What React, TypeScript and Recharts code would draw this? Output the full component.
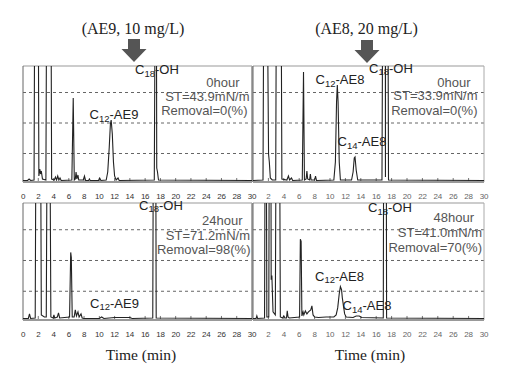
import React from 'react';
import { LineChart, Line, XAxis, YAxis, ReferenceLine } from 'recharts';

const timeTicks = [0, 2, 4, 6, 8, 10, 12, 14, 16, 18, 20, 22, 24, 26, 28, 30];
const timeTicksRight = [2, 4, 6, 8, 10, 12, 14, 16, 18, 20, 22, 24, 26, 28, 30];
const innerTicks = [2, 4, 6, 8, 10, 12, 14, 16, 18, 20, 22, 24, 26, 28];
const gridLevels = [28.5, 59, 89.5];
const yMax = 116;

const ae9Hour0 = [
  { t: 0, v: 1.5 }, { t: 0.6, v: 1.5 }, { t: 0.8, v: 3 }, { t: 1.0, v: 1.5 }, { t: 1.45, v: 2 },
  { t: 1.58, v: 300 }, { t: 1.95, v: 300 }, { t: 2.08, v: 6 }, { t: 2.2, v: 13 }, { t: 2.3, v: 8 },
  { t: 2.4, v: 11 }, { t: 2.55, v: 3 }, { t: 3.0, v: 2 }, { t: 3.15, v: 300 }, { t: 3.62, v: 300 },
  { t: 3.75, v: 3 }, { t: 4.1, v: 2 }, { t: 4.25, v: 5 }, { t: 4.4, v: 2 }, { t: 4.55, v: 6 },
  { t: 4.7, v: 2 }, { t: 4.85, v: 4 }, { t: 5.0, v: 1.5 }, { t: 6.4, v: 2 }, { t: 6.58, v: 84 },
  { t: 6.72, v: 2 }, { t: 6.85, v: 3 }, { t: 6.95, v: 10 }, { t: 7.05, v: 3 }, { t: 7.2, v: 7 },
  { t: 7.3, v: 2 }, { t: 7.9, v: 2 }, { t: 8.05, v: 6 }, { t: 8.2, v: 1.5 }, { t: 8.6, v: 1.5 },
  { t: 8.7, v: 3 }, { t: 8.8, v: 1.5 }, { t: 9.9, v: 1.5 }, { t: 10.05, v: 4 }, { t: 10.2, v: 1.5 },
  { t: 10.9, v: 2 }, { t: 11.1, v: 10 }, { t: 11.3, v: 35 }, { t: 11.45, v: 58 }, { t: 11.55, v: 62 },
  { t: 11.7, v: 48 }, { t: 11.85, v: 20 }, { t: 12.0, v: 6 }, { t: 12.2, v: 2 }, { t: 12.45, v: 4 },
  { t: 12.6, v: 1.5 }, { t: 17.2, v: 2 }, { t: 17.38, v: 300 }, { t: 17.45, v: 300 }, { t: 17.52, v: 14 },
  { t: 17.62, v: 10 }, { t: 17.75, v: 2 }, { t: 30, v: 1.5 },
];

const ae8Hour0 = [
  { t: 0, v: 1.5 }, { t: 1.3, v: 2 }, { t: 1.45, v: 300 }, { t: 1.75, v: 300 }, { t: 2.02, v: 28 },
  { t: 2.12, v: 20 }, { t: 2.25, v: 4 }, { t: 2.5, v: 2 }, { t: 2.95, v: 2 }, { t: 3.08, v: 300 },
  { t: 3.6, v: 300 }, { t: 3.75, v: 3 }, { t: 4.4, v: 2 }, { t: 4.6, v: 6 }, { t: 4.75, v: 2 },
  { t: 5.0, v: 4 }, { t: 5.15, v: 1.5 }, { t: 6.4, v: 2 }, { t: 6.56, v: 110 }, { t: 6.68, v: 2 },
  { t: 6.9, v: 3 }, { t: 7.0, v: 11 }, { t: 7.1, v: 3 }, { t: 7.35, v: 2 }, { t: 7.45, v: 8 },
  { t: 7.55, v: 2 }, { t: 8.0, v: 2 }, { t: 8.12, v: 6 }, { t: 8.25, v: 1.5 }, { t: 10.5, v: 2 },
  { t: 10.7, v: 20 }, { t: 10.85, v: 80 }, { t: 10.95, v: 97 }, { t: 11.05, v: 80 }, { t: 11.2, v: 20 },
  { t: 11.35, v: 2 }, { t: 12.8, v: 2 }, { t: 13.0, v: 10 }, { t: 13.15, v: 24 }, { t: 13.25, v: 25 },
  { t: 13.4, v: 12 }, { t: 13.6, v: 2 }, { t: 16.75, v: 2 }, { t: 16.9, v: 300 }, { t: 17.18, v: 300 },
  { t: 17.2, v: 5 }, { t: 17.22, v: 300 }, { t: 17.48, v: 300 }, { t: 17.6, v: 2 }, { t: 30, v: 1.5 },
];

const ae9Hour24 = [
  { t: 0, v: 1.5 }, { t: 0.7, v: 1.5 }, { t: 0.85, v: 6 }, { t: 1.0, v: 1.5 }, { t: 1.6, v: 2 },
  { t: 1.75, v: 300 }, { t: 2.25, v: 300 }, { t: 2.4, v: 5 }, { t: 2.8, v: 3 }, { t: 3.05, v: 3 },
  { t: 3.22, v: 300 }, { t: 3.45, v: 300 }, { t: 3.65, v: 3 }, { t: 3.95, v: 2 }, { t: 4.05, v: 5 },
  { t: 4.15, v: 2 }, { t: 4.5, v: 3 }, { t: 4.65, v: 7 }, { t: 4.8, v: 2 }, { t: 6.1, v: 3 },
  { t: 6.25, v: 67 }, { t: 6.33, v: 62 }, { t: 6.45, v: 3 }, { t: 6.7, v: 3 }, { t: 6.85, v: 10 },
  { t: 7.0, v: 4 }, { t: 7.2, v: 8 }, { t: 7.35, v: 3 }, { t: 7.6, v: 6 }, { t: 7.75, v: 2 },
  { t: 8.0, v: 1.5 }, { t: 10.0, v: 1.5 }, { t: 10.3, v: 3 }, { t: 10.6, v: 1.5 }, { t: 12.0, v: 2.5 },
  { t: 14.0, v: 2.5 }, { t: 14.3, v: 1.5 }, { t: 17.0, v: 2 }, { t: 17.12, v: 300 }, { t: 17.35, v: 300 },
  { t: 17.45, v: 2 }, { t: 30, v: 1.5 },
];

const ae8Hour48 = [
  { t: 0, v: 1.5 }, { t: 0.4, v: 1.5 }, { t: 0.5, v: 4 }, { t: 0.6, v: 1.5 }, { t: 1.5, v: 2 },
  { t: 1.62, v: 300 }, { t: 1.68, v: 300 }, { t: 1.8, v: 3 }, { t: 2.05, v: 3 }, { t: 2.15, v: 300 },
  { t: 2.3, v: 300 }, { t: 2.36, v: 40 }, { t: 2.45, v: 44 }, { t: 2.6, v: 8 }, { t: 2.9, v: 5 },
  { t: 3.05, v: 300 }, { t: 3.4, v: 300 }, { t: 3.55, v: 3 }, { t: 3.85, v: 2 }, { t: 4.0, v: 4 },
  { t: 4.15, v: 2 }, { t: 4.35, v: 2 }, { t: 4.45, v: 9 }, { t: 4.55, v: 3 }, { t: 4.7, v: 2 },
  { t: 6.05, v: 3 }, { t: 6.15, v: 80 }, { t: 6.25, v: 78 }, { t: 6.35, v: 4 }, { t: 6.5, v: 8 },
  { t: 6.6, v: 5 }, { t: 6.8, v: 9 }, { t: 7.0, v: 6 }, { t: 7.2, v: 8 }, { t: 7.5, v: 10 },
  { t: 7.65, v: 14 }, { t: 7.8, v: 5 }, { t: 8.0, v: 3 }, { t: 8.5, v: 2.5 }, { t: 9.5, v: 3 },
  { t: 10.5, v: 3 }, { t: 10.8, v: 5 }, { t: 11.0, v: 12 }, { t: 11.2, v: 26 }, { t: 11.35, v: 33 },
  { t: 11.5, v: 30 }, { t: 11.6, v: 22 }, { t: 11.75, v: 14 }, { t: 11.9, v: 6 }, { t: 12.1, v: 3 },
  { t: 13.0, v: 2.5 }, { t: 13.4, v: 4 }, { t: 13.8, v: 4 }, { t: 14.1, v: 2.5 }, { t: 16.92, v: 2 },
  { t: 17.0, v: 300 }, { t: 17.28, v: 300 }, { t: 17.35, v: 2 }, { t: 30, v: 1.5 },
];

type PanelProps = {
  data: { t: number; v: number }[];
  ticks: number[];
  plotLeft: number;
  plotRight: number;
  plotTop: number;
  plotBottom: number;
  tickColor: string;
  rightBorderWidth: number;
};

function Panel({ data, ticks, plotLeft, plotRight, plotTop, plotBottom, tickColor, rightBorderWidth }: PanelProps) {
  return (
    <div style={{ position: 'absolute', left: 0, top: 0 }}>
      <LineChart
        width={505}
        height={373}
        data={data}
        margin={{ left: plotLeft, right: 505 - plotRight, top: plotTop, bottom: 373 - plotBottom - 30 }}
      >
        <XAxis
          type="number"
          dataKey="t"
          domain={[0, 30]}
          ticks={ticks}
          interval={0}
          allowDataOverflow
          height={30}
          tickLine={false}
          tickMargin={5}
          axisLine={{ stroke: '#999', strokeWidth: 2 }}
          tick={{ fontSize: 8, fill: tickColor, fontFamily: 'Liberation Sans, Arial', letterSpacing: -0.2 }}
        />
        <YAxis type="number" domain={[0, yMax]} allowDataOverflow hide width={0} />
        {gridLevels.map((g) => (
          <ReferenceLine key={'g' + g} y={g} stroke="#666" strokeDasharray="3 3" />
        ))}
        <ReferenceLine y={yMax} stroke="#999" />
        <ReferenceLine x={0} stroke="#666" />
        <ReferenceLine x={30} stroke="#aaa" strokeWidth={rightBorderWidth} />
        {innerTicks.map((t) => (
          <ReferenceLine key={'t' + t} segment={[{ x: t, y: 0 }, { x: t, y: 4 }]} stroke="#777" />
        ))}
        <Line
          type="linear"
          dataKey="v"
          stroke="#222"
          strokeWidth={1.1}
          dot={false}
          isAnimationActive={false}
        />
      </LineChart>
    </div>
  );
}

const sans = 'Liberation Sans, Arial, sans-serif';
const serif = 'Liberation Serif, Times New Roman, serif';

function PeakLabel({ x, y, c, rest }: { x: number; y: number; c: string; rest: string }) {
  return (
    <text x={x} y={y} fontFamily={sans} fontSize={13} fill="#222">
      C
      <tspan fontSize={9.5} dy={2.5}>{c}</tspan>
      <tspan dy={-2.5}>{rest}</tspan>
    </text>
  );
}

function Info({ x, y, text }: { x: number; y: number; text: string }) {
  return (
    <text x={x} y={y} fontFamily={sans} fontSize={13} fill="#555" textAnchor="end">
      {text}
    </text>
  );
}

function Arrow({ cx, tipY }: { cx: number; tipY: number }) {
  const pts = [
    [cx - 6, tipY - 23], [cx + 6, tipY - 23], [cx + 6, tipY - 13], [cx + 12.5, tipY - 13],
    [cx, tipY], [cx - 12.5, tipY - 13], [cx - 6, tipY - 13],
  ].map((p) => p.join(',')).join(' ');
  return <polygon points={pts} fill="#555" />;
}

export default function App() {
  return (
    <div style={{ position: 'absolute', left: 0, top: 0, width: 505, height: 373, background: '#fff', overflow: 'hidden' }}>
      <Panel data={ae9Hour0} ticks={timeTicks} plotLeft={23} plotRight={252} plotTop={66} plotBottom={182} tickColor="#333" rightBorderWidth={2} />
      <Panel data={ae8Hour0} ticks={timeTicksRight} plotLeft={253} plotRight={484} plotTop={66} plotBottom={182} tickColor="#666" rightBorderWidth={1} />
      <Panel data={ae9Hour24} ticks={timeTicks} plotLeft={23} plotRight={252} plotTop={203} plotBottom={320} tickColor="#333" rightBorderWidth={2} />
      <Panel data={ae8Hour48} ticks={timeTicksRight} plotLeft={253} plotRight={484} plotTop={203} plotBottom={320} tickColor="#666" rightBorderWidth={1} />
      <svg width={505} height={373} style={{ position: 'absolute', left: 0, top: 0, pointerEvents: 'none' }}>
        <text x={133} y={34} fontFamily={serif} fontSize={16} fill="#222" textAnchor="middle">(AE9, 10 mg/L)</text>
        <text x={366.5} y={34} fontFamily={serif} fontSize={16} fill="#222" textAnchor="middle">(AE8, 20 mg/L)</text>
        <Arrow cx={134} tipY={62} />
        <Arrow cx={367} tipY={63} />

        <PeakLabel x={135} y={74} c="18" rest="-OH" />
        <PeakLabel x={89.5} y={119} c="12" rest="-AE9" />
        <Info x={239.5} y={87} text="0hour" />
        <Info x={249.5} y={100.5} text="ST=43.9mN/m" />
        <Info x={247.5} y={115} text="Removal=0(%)" />

        <PeakLabel x={369} y={72.5} c="18" rest="-OH" />
        <PeakLabel x={315.5} y={84} c="12" rest="-AE8" />
        <PeakLabel x={337.5} y={146} c="14" rest="-AE8" />
        <Info x={470.5} y={86.5} text="0hour" />
        <Info x={477.5} y={100} text="ST=33.9mN/m" />
        <Info x={477.5} y={115} text="Removal=0(%)" />

        <PeakLabel x={139} y={209.5} c="18" rest="-OH" />
        <PeakLabel x={90} y={307.5} c="12" rest="-AE9" />
        <Info x={242.5} y={224.5} text="24hour" />
        <Info x={250} y={239.5} text="ST=71.2mN/m" />
        <Info x={250.5} y={253.5} text="Removal=98(%)" />

        <PeakLabel x={368} y={212} c="18" rest="-OH" />
        <PeakLabel x={315} y={280.5} c="12" rest="-AE8" />
        <PeakLabel x={342.5} y={310} c="14" rest="-AE8" />
        <Info x={474} y={222} text="48hour" />
        <Info x={482} y={237} text="ST=41.0mN/m" />
        <Info x={482} y={252} text="Removal=70(%)" />

        <text x={141} y={360} fontFamily={serif} fontSize={15.5} fill="#222" textAnchor="middle">Time (min)</text>
        <text x={370} y={360} fontFamily={serif} fontSize={15.5} fill="#222" textAnchor="middle">Time (min)</text>
      </svg>
    </div>
  );
}
